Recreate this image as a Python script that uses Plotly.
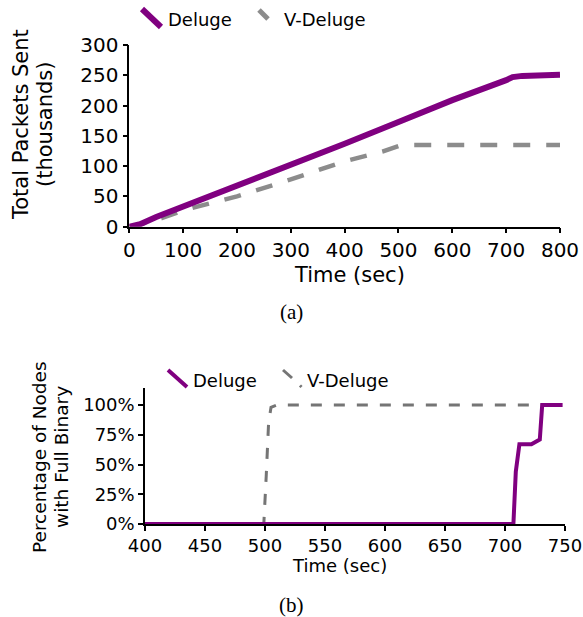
import plotly.graph_objects as go

W, H = 583, 617

# ---------------- data ----------------
# (a) Total packets sent (thousands) vs time (sec)
time_a_deluge = [0, 20, 50, 100, 200, 300, 400, 500, 600, 700, 712, 730, 800]
pkts_deluge = [0, 4, 16, 33, 68, 101, 137, 173, 209, 242, 247, 249, 251]
time_a_vdeluge = [0, 20, 60, 100, 200, 300, 400, 470, 500, 515, 800]
pkts_vdeluge = [0, 4, 14, 27, 50, 78, 108, 124, 133, 135, 135]

# (b) Percentage of nodes with full binary vs time (sec)
time_b_deluge = [400, 707, 709, 712, 722, 725, 729, 731, 748]
pct_deluge = [0, 0, 44, 67, 67, 69, 71, 100, 100]
time_b_vdeluge = [400, 499, 501, 503, 505, 510, 745]
pct_vdeluge = [0, 0, 40, 85, 98, 100, 100]

x_ticks_a = [0, 100, 200, 300, 400, 500, 600, 700, 800]
y_ticks_a = [0, 50, 100, 150, 200, 250, 300]
x_ticks_b = [400, 450, 500, 550, 600, 650, 700, 750]
y_ticks_b = [0, 25, 50, 75, 100]
y_ticktext_b = ["0%", "25%", "50%", "75%", "100%"]

series_names = ["Deluge", "V-Deluge"]

PURPLE = "#800080"
GREY_A = "#8c8c8c"
GREY_B = "#757575"
FONT = "DejaVu Sans"


def px(x):
    return x / W


def py(y):
    return 1 - y / H


fig = go.Figure()

# (a)
fig.add_trace(go.Scatter(x=time_a_vdeluge, y=pkts_vdeluge, mode="lines", name=series_names[1],
                         line=dict(color=GREY_A, width=4.5, dash="17px,16px"),
                         cliponaxis=False, xaxis="x", yaxis="y", showlegend=False))
fig.add_trace(go.Scatter(x=time_a_deluge, y=pkts_deluge, mode="lines", name=series_names[0],
                         line=dict(color=PURPLE, width=6),
                         cliponaxis=False, xaxis="x", yaxis="y", showlegend=False))
# (b)
fig.add_trace(go.Scatter(x=time_b_vdeluge, y=pct_vdeluge, mode="lines", name=series_names[1],
                         line=dict(color=GREY_B, width=3, dash="11px,12px"),
                         cliponaxis=False, xaxis="x2", yaxis="y2", showlegend=False))
fig.add_trace(go.Scatter(x=time_b_deluge, y=pct_deluge, mode="lines", name=series_names[0],
                         line=dict(color=PURPLE, width=4),
                         cliponaxis=False, xaxis="x2", yaxis="y2", showlegend=False))

axis_common = dict(showline=True, linecolor="black", linewidth=1.5, ticks="outside",
                   ticklen=5, tickwidth=1.5, tickcolor="black", showgrid=False,
                   zeroline=False, layer="below traces", fixedrange=True, automargin=False)

fig.update_layout(
    width=W, height=H, autosize=False,
    margin=dict(l=0, r=0, t=0, b=0, pad=0, autoexpand=False),
    paper_bgcolor="white", plot_bgcolor="white",
    font=dict(family=FONT, color="black"),
    showlegend=False,
    xaxis=dict(domain=[px(129.3), px(560)], range=[0, 800], tickvals=x_ticks_a,
               tickfont=dict(size=20), anchor="y", **axis_common),
    yaxis=dict(domain=[py(226.7), py(45)], range=[0, 300], tickvals=y_ticks_a,
               tickfont=dict(size=20), anchor="x", **axis_common),
    xaxis2=dict(domain=[px(145), px(565)], range=[400, 750], tickvals=x_ticks_b,
                tickfont=dict(size=18), anchor="y2", **axis_common),
    yaxis2=dict(domain=[py(524), py(388)], range=[0, 114.3], tickvals=y_ticks_b,
                ticktext=y_ticktext_b, tickfont=dict(size=18), anchor="x2", **axis_common),
)

ann = []


def text(x, y, s, size, xanchor="center", angle=0, family=FONT):
    ann.append(dict(x=px(x), y=py(y), xref="paper", yref="paper", text=s, showarrow=False,
                    xanchor=xanchor, yanchor="middle", textangle=angle,
                    font=dict(family=family, size=size, color="black")))


# axis titles
text(349.5, 275, "Time (sec)", 21)
text(21, 125, "Total Packets Sent", 21, angle=-90)
text(45, 125, "(thousands)", 21, angle=-90)
text(339, 565, "Time (sec)", 18)
text(40, 457, "Percentage of Nodes", 18.5, angle=-90)
text(62, 457, "with Full Binary", 18.5, angle=-90)
# captions
text(291, 312, "(a)", 21, family="Liberation Serif")
text(291, 605, "(b)", 21, family="Liberation Serif")
# legend texts
text(166, 19, series_names[0], 18, xanchor="left")
text(282, 19, series_names[1], 18, xanchor="left")
text(191, 380, series_names[0], 18, xanchor="left")
text(305, 380, series_names[1], 18, xanchor="left")

shapes = []


def seg(x0, y0, x1, y1, color, width):
    shapes.append(dict(type="line", xref="paper", yref="paper", x0=px(x0), y0=py(y0),
                       x1=px(x1), y1=py(y1), line=dict(color=color, width=width)))


# legend glyphs (diagonal, as in the reference)
seg(142, 9, 161, 27, PURPLE, 6)
seg(259, 10, 268, 19, GREY_A, 5)
seg(168, 370, 187, 387, PURPLE, 4)
seg(283, 370, 292, 378, GREY_B, 3)
seg(300, 385.5, 301.5, 387, GREY_B, 3)

fig.update_layout(annotations=ann, shapes=shapes)
fig.write_html("out.html", config={"displayModeBar": False},
               post_script="document.body.style.margin='0px';document.body.style.overflow='hidden';")
